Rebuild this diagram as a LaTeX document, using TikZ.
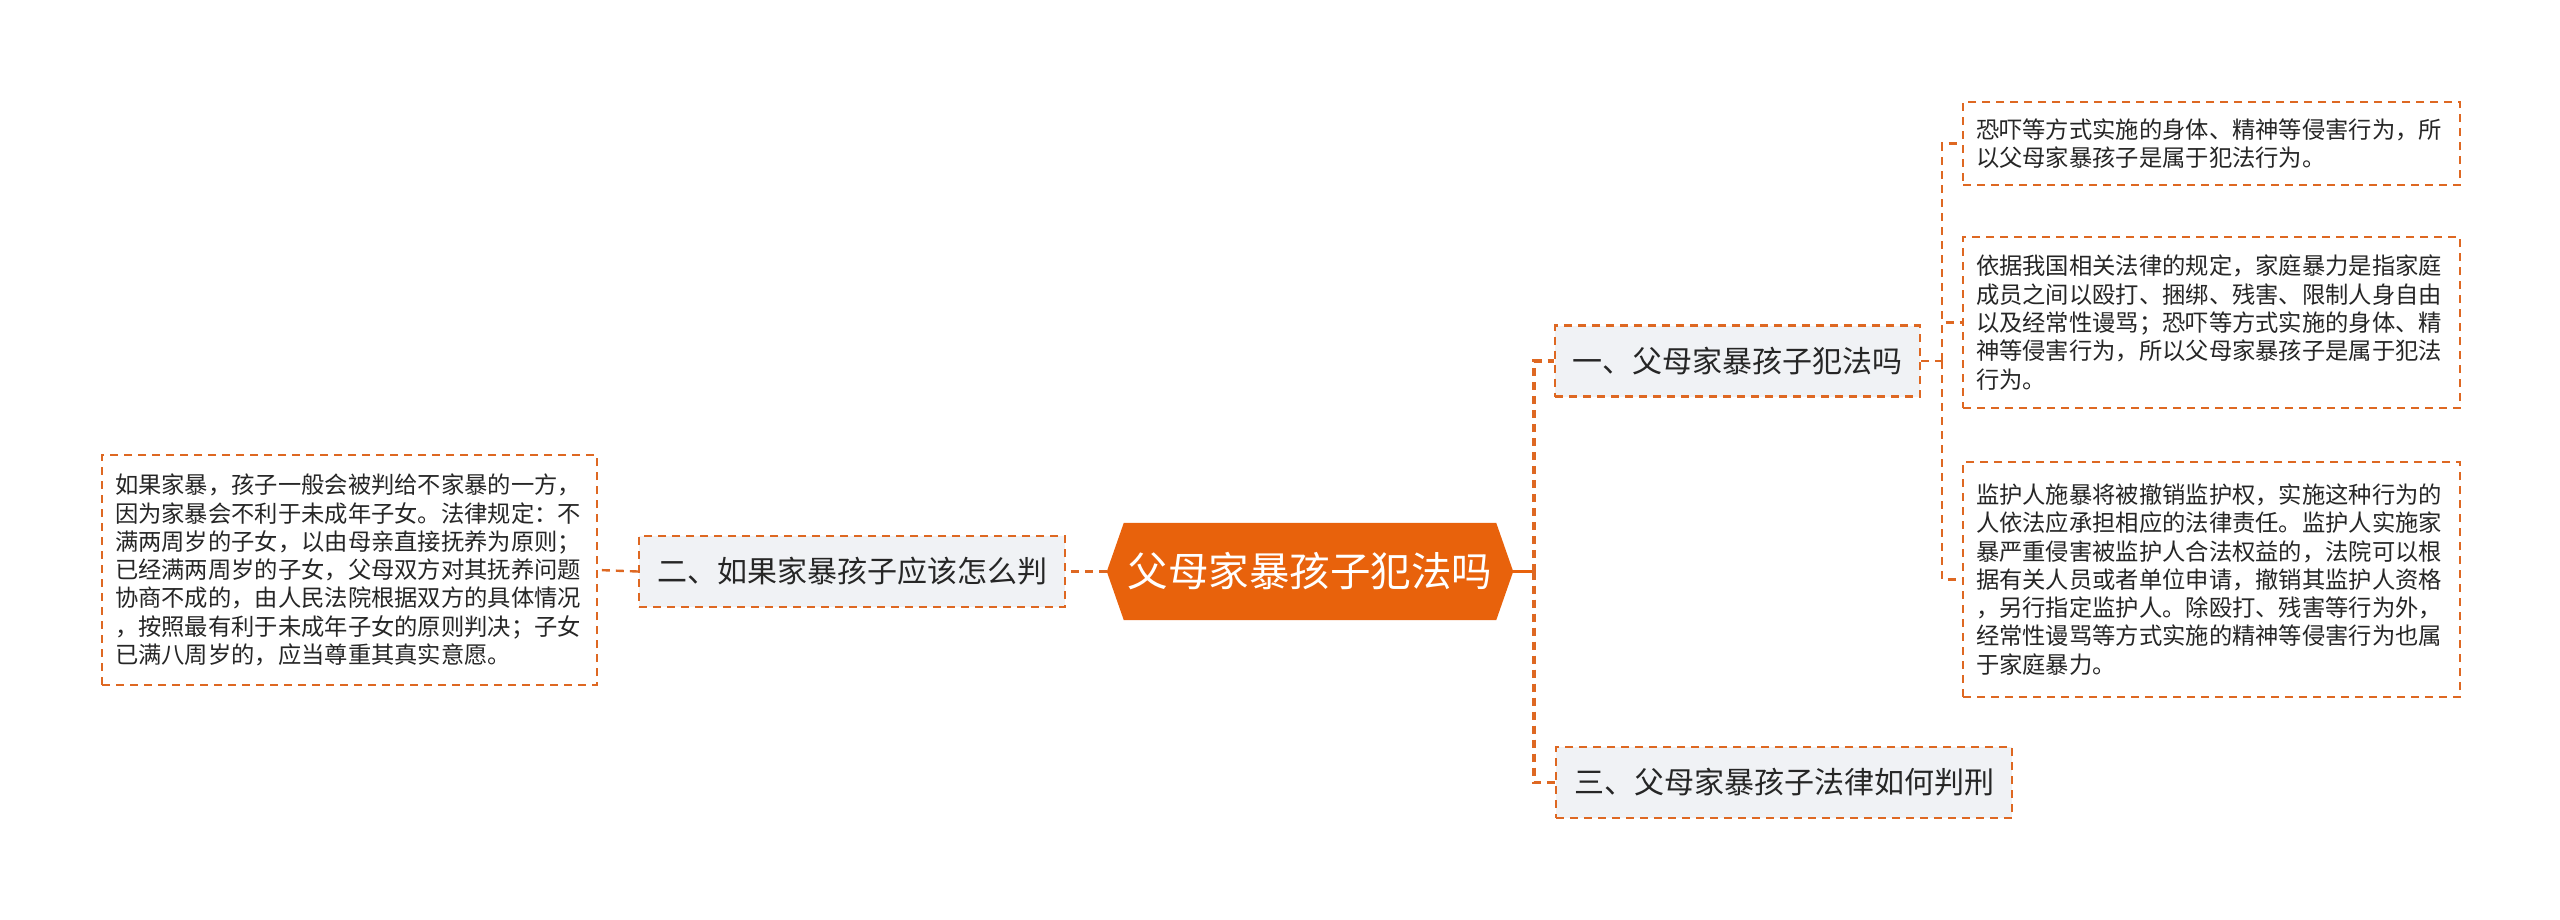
\documentclass[tikz,border=0pt]{standalone}
\usepackage{fontspec}
\newfontfamily\cjk{Noto Sans CJK SC}
\pgfdeclarelayer{background}
\pgfsetlayers{background,main}
\definecolor{mmorange}{RGB}{232,98,12}
\definecolor{lineorange}{RGB}{222,104,34}
\definecolor{branchfill}{RGB}{240,242,245}
\definecolor{txt}{RGB}{38,38,38}
\tikzset{
  rootnode/.style={minimum width=406pt, minimum height=97pt, inner sep=0pt, text=white,
    font=\cjk\fontsize{40.5pt}{46pt}\selectfont},
  branchbox/.style={draw=lineorange, line width=2.2pt, dash pattern=on 8pt off 6pt,
    fill=branchfill, inner sep=0pt, minimum height=71pt, text=txt,
    font=\cjk\fontsize{30pt}{36pt}\selectfont},
  leafbox/.style={draw=lineorange, line width=2.2pt, dash pattern=on 8pt off 6pt,
    fill=white, inner xsep=13pt, inner ysep=0pt, align=left, text=txt,
    font=\cjk\fontsize{23.3pt}{28.3pt}\selectfont},
  trunk/.style={draw=lineorange, line width=3.6pt, dash pattern=on 8pt off 6pt},
  twig/.style={draw=lineorange, line width=2.4pt, dash pattern=on 8pt off 6pt},
  solidlink/.style={draw=mmorange, line width=2.6pt},
}
\begin{document}
\begin{tikzpicture}[x=1pt,y=-1pt]
\useasboundingbox (0,0) rectangle (2560,919);

% root
\node[rootnode] (root) at (1310,571.5) {父母家暴孩子犯法吗};
\begin{pgfonlayer}{background}
\fill[mmorange] (root.west) -- ([xshift=17pt]root.north west) -- ([xshift=-17pt]root.north east)
  -- (root.east) -- ([xshift=-17pt]root.south east) -- ([xshift=17pt]root.south west) -- cycle;
\end{pgfonlayer}

% branches
\node[branchbox, minimum width=365pt] (b1) at (1737.5,361) {一、父母家暴孩子犯法吗};
\node[branchbox, minimum width=426pt] (b2) at (852,571.5) {二、如果家暴孩子应该怎么判};
\node[branchbox, minimum width=456pt] (b3) at (1784,782.5) {三、父母家暴孩子法律如何判刑};

% leaves
\node[leafbox, text width=471pt, minimum height=83pt] (l1) at (2211.5,143.5)
  {恐吓等方式实施的身体、精神等侵害行为，所\\以父母家暴孩子是属于犯法行为。};
\node[leafbox, text width=471pt, minimum height=171pt] (l2) at (2211.5,322.5)
  {依据我国相关法律的规定，家庭暴力是指家庭\\成员之间以殴打、捆绑、残害、限制人身自由\\以及经常性谩骂；恐吓等方式实施的身体、精\\神等侵害行为，所以父母家暴孩子是属于犯法\\行为。};
\node[leafbox, text width=471pt, minimum height=235pt] (l3) at (2211.5,579.5)
  {监护人施暴将被撤销监护权，实施这种行为的\\人依法应承担相应的法律责任。监护人实施家\\暴严重侵害被监护人合法权益的，法院可以根\\据有关人员或者单位申请，撤销其监护人资格\\，另行指定监护人。除殴打、残害等行为外，\\经常性谩骂等方式实施的精神等侵害行为也属\\于家庭暴力。};
\node[leafbox, text width=469pt, minimum height=230pt] (l0) at (349.5,570)
  {如果家暴，孩子一般会被判给不家暴的一方，\\因为家暴会不利于未成年子女。法律规定：不\\满两周岁的子女，以由母亲直接抚养为原则；\\已经满两周岁的子女，父母双方对其抚养问题\\协商不成的，由人民法院根据双方的具体情况\\，按照最有利于未成年子女的原则判决；子女\\已满八周岁的，应当尊重其真实意愿。};

% connectors
\coordinate (t0) at (1534,571.5);
\coordinate (s1) at (1942,361);
\begin{pgfonlayer}{background}
\draw[solidlink] (root.east) -- (t0);
\draw[trunk] (t0) |- (b1.west);
\draw[trunk] (t0) |- (b3.west);
\draw[twig] (b1.east) -- (s1);
\draw[twig] (s1) |- (l1.west);
\draw[twig] (s1) |- (l2.west);
\draw[twig] (s1) |- (l3.west);
\draw[twig] (root.west) -- (b2.east);
\draw[twig] (b2.west) -- (l0.east);
\end{pgfonlayer}
\end{tikzpicture}
\end{document}
